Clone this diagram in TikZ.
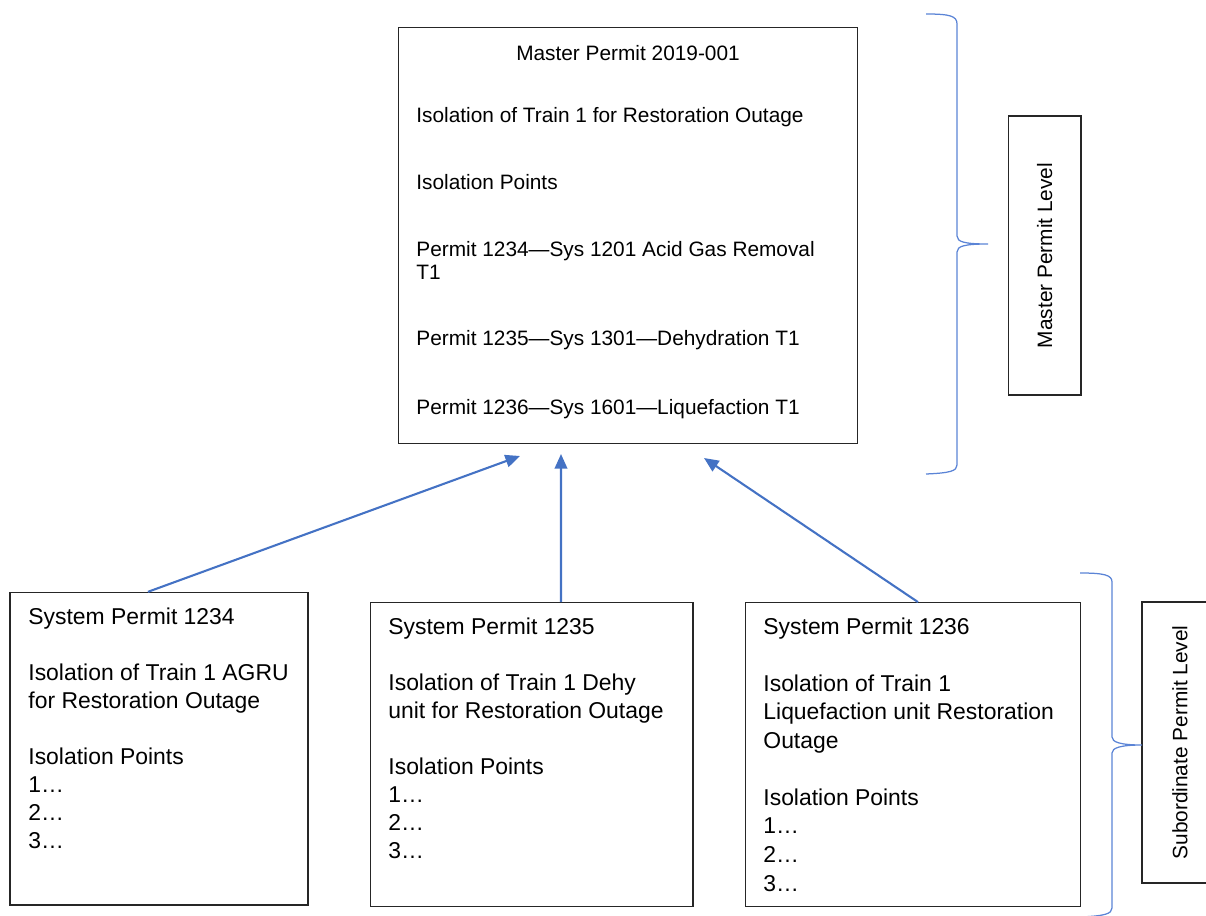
\documentclass[tikz,border=0pt]{standalone}
\usepackage{fontspec}
\setmainfont{Liberation Sans}
\usetikzlibrary{arrows.meta}
\definecolor{arrowblue}{HTML}{4472C4}
\definecolor{braceblue}{HTML}{5B84D6}
\tikzset{
	permitbox/.style={draw=black!85,line width=0.6pt,rectangle,inner sep=0pt},
	levelbox/.style={draw=black!85,line width=0.6pt,rectangle,rotate=90,inner sep=0pt,font=\fontsize{10}{12}\selectfont},
	mastertext/.style={anchor=base west,align=left,inner sep=0pt,font=\fontsize{10}{10.8}\selectfont},
	subtext/.style={anchor=base west,align=left,inner sep=0pt,font=\fontsize{11}{13.4}\selectfont},
	uparrow/.style={draw=arrowblue,line width=1pt,-{Triangle[length=7pt,width=6pt]}},
	bracket/.style={draw=braceblue,line width=0.6pt}
}
\begin{document}
\begin{tikzpicture}[x=0.48pt,y=-0.48pt]
				\useasboundingbox (0,0) rectangle (1206,916);
				% master permit
				\node[name=mp,permitbox,minimum width=220.3pt,minimum height=199.7pt] at (627.8,235.3){};
				\node[name=mtitle,anchor=base,inner sep=0pt,font=\fontsize{10}{12}\selectfont] at (628,60.8){Master Permit 2019-001};
				\node[name=mline1,mastertext] at (416,122.5){Isolation of Train 1 for Restoration Outage};
				\node[name=mline2,mastertext] at (416,189.2){Isolation Points};
				\node[name=mline3,mastertext] at (416,279.2){Permit 1234\textemdash Sys 1201 Acid Gas Removal\\T1};
				\node[name=mline4,mastertext] at (416,345.5){Permit 1235\textemdash Sys 1301\textemdash Dehydration T1};
				\node[name=mline5,mastertext] at (416,414.2){Permit 1236\textemdash Sys 1601\textemdash Liquefaction T1};
				% system permits (text nodes sit on their last line)
				\node[name=sp1,permitbox,minimum width=143pt,minimum height=150pt] at (159,748.7){};
				\node[name=sp2,permitbox,minimum width=154.7pt,minimum height=145.9pt] at (531.8,754.7){};
				\node[name=sp3,permitbox,minimum width=160.8pt,minimum height=145.9pt] at (913.2,754.7){};
				\node[name=sp1text,subtext] at (28,848){System Permit 1234\\[13.4pt]Isolation of Train 1 AGRU\\for Restoration Outage\\[13.4pt]Isolation Points\\1…\\2…\\3…};
				\node[name=sp2text,subtext] at (388,858){System Permit 1235\\[13.4pt]Isolation of Train 1 Dehy\\unit for Restoration Outage\\[13.4pt]Isolation Points\\1…\\2…\\3…};
				\node[name=sp3text,subtext,font=\fontsize{11}{13.7}\selectfont] at (763,891){System Permit 1236\\[13.7pt]Isolation of Train 1\\Liquefaction unit Restoration\\Outage\\[13.7pt]Isolation Points\\1…\\2…\\3…};
				% levels
				\node[name=mlevel,levelbox,minimum width=133.9pt,minimum height=34.9pt] at (1044.7,255.5){Master Permit Level};
				\node[name=slevel,levelbox,minimum width=134.9pt,minimum height=36.5pt] at (1180,742.5){Subordinate Permit Level};
				\draw[bracket] (926,14) .. controls (950,14) and (957,16) .. (957,24) -- (957,236) .. controls (957,242) and (965,244) .. (988,244) .. controls (965,244) and (957,246) .. (957,252) -- (957,465) .. controls (957,471) and (950,473) .. (926,474);
				\draw[bracket] (1080,573) .. controls (1104,573) and (1112,575) .. (1112,582) -- (1112,737) .. controls (1112,742) and (1120,745) .. (1142,745) .. controls (1120,745) and (1112,748) .. (1112,753) -- (1112,908) .. controls (1112,914) and (1104,916) .. (1080,917);
				% arrows up to the master permit
				\coordinate (tip1) at (520,456);
				\coordinate (tip2) at (561,454);
				\coordinate (tip3) at (704,458);
				\draw[uparrow] ([xshift=-5.3pt]sp1.north) -- (tip1);
				\draw[uparrow] ([xshift=14pt]sp2.north) -- (tip2);
				\draw[uparrow] ([xshift=2.3pt]sp3.north) -- (tip3);
			\end{tikzpicture}
\end{document}
